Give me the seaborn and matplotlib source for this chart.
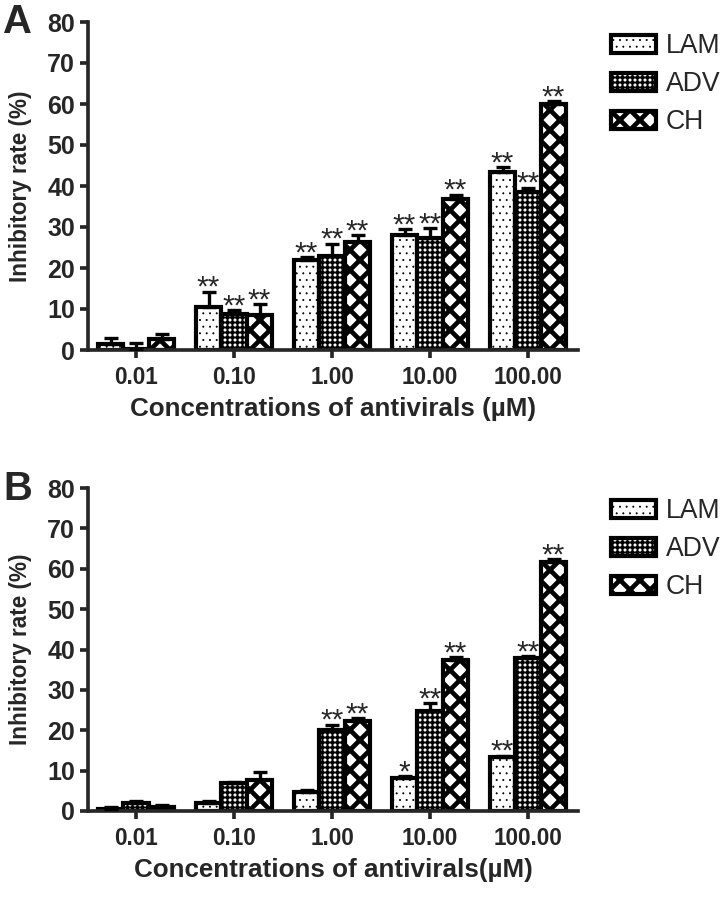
import matplotlib
matplotlib.use("Agg")
import matplotlib.pyplot as plt
import seaborn as sns
import numpy as np
import pandas as pd

# categories
concs = ["0.01", "0.10", "1.00", "10.00", "100.00"]
drugs = ["LAM", "ADV", "CH"]

# panel A: inhibitory rate (%) and SD
a_lam = [1.5, 10.6, 22.0, 28.1, 43.3]
a_adv = [0.3, 8.8, 23.0, 27.3, 38.6]
a_ch = [2.8, 8.6, 26.3, 36.9, 60.0]
a_lam_err = [1.4, 3.6, 0.7, 1.4, 1.3]
a_adv_err = [1.3, 0.9, 2.9, 2.4, 1.0]
a_ch_err = [1.1, 2.5, 1.7, 1.0, 0.7]
a_lam_sig = ["", "**", "**", "**", "**"]
a_adv_sig = ["", "**", "**", "**", "**"]
a_ch_sig = ["", "**", "**", "**", "**"]

# panel B
b_lam = [0.6, 2.0, 4.7, 8.1, 13.3]
b_adv = [2.0, 7.0, 20.0, 24.7, 37.8]
b_ch = [0.9, 7.8, 22.4, 37.3, 61.7]
b_lam_err = [0.4, 0.4, 0.6, 0.5, 0.4]
b_adv_err = [0.4, 0.3, 1.4, 2.0, 0.5]
b_ch_err = [0.5, 1.8, 0.6, 0.8, 0.6]
b_lam_sig = ["", "", "", "*", "**"]
b_adv_sig = ["", "", "**", "**", "**"]
b_ch_sig = ["", "", "**", "**", "**"]

sns.set_style("ticks")
plt.rcParams["font.family"] = ["Liberation Sans", "DejaVu Sans"]

DPI = 120
fig = plt.figure(figsize=(723 / DPI, 899 / DPI), dpi=DPI)

hatches = ["...", "++++", "xx"]
hatch_lw = [0.4, 1.3, 2.8]


def set_hatch_lw(patch, lw):
    if hasattr(patch, "set_hatch_linewidth"):
        patch.set_hatch_linewidth(lw)


def draw_panel(ax, vals, errs, sigs, xlabel):
    df = pd.DataFrame({
        "conc": concs * 3,
        "drug": np.repeat(drugs, len(concs)),
        "rate": vals[0] + vals[1] + vals[2],
    })
    sns.barplot(data=df, x="conc", y="rate", hue="drug", order=concs,
                hue_order=drugs, palette=["white"] * 3, saturation=1,
                edgecolor="black", linewidth=2.5, width=0.78,
                errorbar=None, legend=False, ax=ax)

    bar_conts = list(ax.containers)
    for i, cont in enumerate(bar_conts):
        xs, hs = [], []
        for bar in cont:
            bar.set_hatch(hatches[i])
            set_hatch_lw(bar, hatch_lw[i])
            xs.append(bar.get_x() + bar.get_width() / 2)
            hs.append(bar.get_height())
        ax.errorbar(xs, hs, yerr=[np.zeros(len(xs)), errs[i]], fmt="none",
                    ecolor="black", elinewidth=2.0, capsize=4.0,
                    capthick=2.0, zorder=3)
        for x, h, e, s in zip(xs, hs, errs[i], sigs[i]):
            if s:
                ax.annotate(s, (x, h + e), xytext=(0, -2.5),
                            textcoords="offset points", ha="center",
                            va="baseline", fontsize=18)

    ax.set_ylim(0, 80)
    ax.set_yticks(range(0, 81, 10))
    ax.set_xlim(-0.49, 4.51)
    sns.despine(ax=ax)
    for sp in ["left", "bottom"]:
        ax.spines[sp].set_linewidth(2.2)
    ax.tick_params(axis="both", width=2.2, length=4.8)
    ax.tick_params(axis="x", pad=4.8, labelsize=13.5)
    ax.tick_params(axis="y", pad=3, labelsize=15)
    for lbl in ax.get_xticklabels() + ax.get_yticklabels():
        lbl.set_fontweight("bold")
    ax.set_xlabel(xlabel, fontsize=15.6, fontweight="bold", labelpad=5)
    ax.set_ylabel("Inhibitory rate (%)", fontsize=13.5, fontweight="bold",
                  labelpad=9)

    return [bar_conts[i][0] for i in range(3)]


def add_legend(ax, handles, top_px):
    leg = ax.legend(handles, drugs, loc="upper left",
                    bbox_to_anchor=(611 / 723, 1 - top_px / 899),
                    bbox_transform=fig.transFigure, frameon=False, fontsize=16,
                    borderpad=0, borderaxespad=0, handlelength=1.7,
                    handleheight=0.65, handletextpad=0.35, labelspacing=0.45)
    for i, hd in enumerate(leg.legend_handles):
        hd.set_hatch(hatches[i])
        set_hatch_lw(hd, hatch_lw[i])
    return leg


ax_a = fig.add_axes([88 / 723, 1 - 350 / 899, 490 / 723, 328 / 899])
h = draw_panel(ax_a, [a_lam, a_adv, a_ch], [a_lam_err, a_adv_err, a_ch_err],
               [a_lam_sig, a_adv_sig, a_ch_sig],
               "Concentrations of antivirals (µM)")
add_legend(ax_a, h, 33)

ax_b = fig.add_axes([88 / 723, 1 - 811 / 899, 490 / 723, 323 / 899])
h = draw_panel(ax_b, [b_lam, b_adv, b_ch], [b_lam_err, b_adv_err, b_ch_err],
               [b_lam_sig, b_adv_sig, b_ch_sig],
               "Concentrations of antivirals(µM)")
add_legend(ax_b, h, 498)

fig.text(3 / 723, 1 - 33 / 899, "A", fontsize=24, fontweight="bold",
         ha="left", va="baseline")
fig.text(3 / 723, 1 - 500 / 899, "B", fontsize=24, fontweight="bold",
         ha="left", va="baseline")

fig.savefig("out.png", dpi=DPI)
